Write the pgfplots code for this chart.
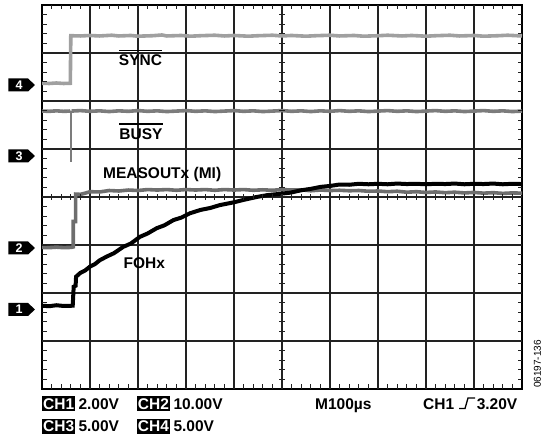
\documentclass[border=0pt]{standalone}
\usepackage{fontspec}
\setmainfont{Liberation Sans}
\usepackage{pgfplots}
\pgfplotsset{compat=1.18}
\definecolor{synccol}{HTML}{A0A0A0}
\definecolor{busycol}{HTML}{7C7C7C}
\definecolor{meascol}{HTML}{6E6E6E}
\definecolor{gridcol}{HTML}{222222}
\newcommand{\chmark}[2]{%
  \fill (-33.5bp,#1-6.5bp) -- (-14bp,#1-6.5bp) -- (-7bp,#1) -- (-14bp,#1+6.5bp) -- (-33.5bp,#1+6.5bp) -- cycle;
  \node[text=white, font=\fontsize{12.5bp}{13bp}\selectfont\bfseries, inner sep=0pt] at (-23bp,#1) {#2};}
\begin{document}
\begin{tikzpicture}[
  lbl/.style={font=\fontsize{15.5bp}{16bp}\selectfont\bfseries, text height=11bp, text depth=0bp, inner xsep=0bp, inner ysep=2bp},
  chbox/.style={lbl, fill=black, text=white, inner xsep=1bp}]
\useasboundingbox (-42bp,-52bp) rectangle (500bp,389bp);
\begin{axis}[at={(0,0)}, anchor=south west, scale only axis, width=480bp, height=384bp,
  xmin=0, xmax=10, ymin=0, ymax=8,
  xtick={0,...,10}, ytick={0,...,8}, xticklabels={}, yticklabels={},
  major tick length=0pt, grid=major,
  major grid style={gridcol, line width=1.6bp},
  axis line style={black, line width=2bp}]
% SYNC (CH4)
\addplot[synccol, line width=3.6bp] coordinates {
 (0,6.37) (0.15,6.365) (0.3,6.375) (0.45,6.365) (0.59,6.37) (0.60,7.36)
 (0.8,7.355) (1.0,7.365) (1.2,7.355) (1.45,7.37) (1.6,7.355) (1.85,7.365) (2.0,7.35)
 (2.3,7.36) (2.5,7.375) (2.6,7.355) (2.9,7.365) (3.1,7.35) (3.3,7.36) (3.6,7.37)
 (3.8,7.355) (4.0,7.365) (4.3,7.35) (4.5,7.36) (4.8,7.37) (5.0,7.355) (5.2,7.365)
 (5.5,7.35) (5.7,7.36) (6.0,7.37) (6.2,7.355) (6.5,7.365) (6.7,7.35) (7.0,7.36)
 (7.2,7.37) (7.5,7.355) (7.7,7.365) (8.0,7.35) (8.2,7.36) (8.5,7.37) (8.7,7.355)
 (9.0,7.365) (9.2,7.35) (9.5,7.36) (9.7,7.37) (10,7.355)};
% BUSY (CH3)
\addplot[busycol, line width=3.6bp] coordinates {
 (0,5.79) (0.15,5.785) (0.3,5.795) (0.45,5.785) (0.585,5.79) (0.595,5.795)};
\addplot[busycol, line width=1.4bp] coordinates {
 (0.60,5.79) (0.60,4.74) (0.61,4.74) (0.61,5.79)};
\addplot[busycol, line width=3.6bp] coordinates {
 (0.615,5.79) (0.8,5.80) (1.0,5.785) (1.2,5.795) (1.4,5.78) (1.6,5.795) (1.8,5.785)
 (2.0,5.80) (2.2,5.785) (2.4,5.795) (2.6,5.78) (2.8,5.79) (3.0,5.80) (3.2,5.785)
 (3.4,5.795) (3.6,5.78) (3.8,5.79) (4.0,5.80) (4.2,5.785) (4.4,5.795) (4.6,5.78)
 (4.8,5.79) (5.0,5.80) (5.2,5.785) (5.4,5.795) (5.6,5.78) (5.8,5.795) (6.0,5.785)
 (6.2,5.80) (6.4,5.785) (6.6,5.795) (6.8,5.78) (7.0,5.79) (7.2,5.80) (7.4,5.785)
 (7.6,5.795) (7.8,5.78) (8.0,5.79) (8.2,5.80) (8.4,5.785) (8.6,5.795) (8.8,5.78)
 (9.0,5.79) (9.2,5.80) (9.4,5.785) (9.6,5.795) (9.8,5.78) (10,5.79)};
% MEASOUTx (CH2)
\addplot[meascol, line width=3.6bp] coordinates {
 (0,2.95) (0.15,2.945) (0.3,2.955) (0.45,2.945) (0.61,2.95) (0.65,2.96) (0.65,3.49)
 (0.70,3.49) (0.70,4.06) (0.8,4.055) (0.9,4.08) (1.0,4.11) (1.2,4.105) (1.4,4.135)
 (1.6,4.125) (1.8,4.145) (2.0,4.135) (2.2,4.155) (2.4,4.145) (2.6,4.155) (2.8,4.14)
 (3.0,4.155) (3.2,4.145) (3.4,4.155) (3.6,4.14) (3.8,4.155) (4.0,4.145) (4.2,4.155)
 (4.4,4.14) (4.6,4.15) (4.8,4.14) (5.0,4.155) (5.2,4.145) (5.4,4.15) (5.6,4.13)
 (5.8,4.145) (6.0,4.135) (6.2,4.14) (6.4,4.13) (6.6,4.135) (6.8,4.12) (7.0,4.125)
 (7.2,4.11) (7.4,4.12) (7.6,4.10) (7.8,4.11) (8.0,4.095) (8.2,4.105) (8.4,4.09)
 (8.6,4.10) (8.8,4.085) (9.0,4.095) (9.2,4.08) (9.4,4.09) (9.6,4.075) (9.8,4.085) (10,4.08)};
% FOHx (CH1)
\addplot[black, line width=4bp] coordinates {
 (0,1.735) (0.15,1.725) (0.3,1.745) (0.45,1.73) (0.64,1.735) (0.66,2.13) (0.70,2.15)
 (0.71,2.34) (0.8,2.42) (0.9,2.47) (1.0,2.55) (1.1,2.60) (1.2,2.68) (1.35,2.76)
 (1.5,2.83) (1.69,2.96) (1.85,3.03) (2.04,3.17) (2.2,3.24) (2.39,3.35) (2.55,3.41)
 (2.74,3.52) (2.9,3.57) (3.08,3.66) (3.3,3.73) (3.5,3.77) (3.7,3.83) (4.0,3.89)
 (4.2,3.94) (4.47,4.00) (4.7,4.04) (4.9,4.06) (5.17,4.09) (5.4,4.14) (5.6,4.17)
 (5.8,4.21) (6.0,4.23) (6.2,4.26) (6.4,4.255) (6.6,4.275) (6.8,4.265) (7.0,4.275)
 (7.2,4.265) (7.4,4.28) (7.6,4.27) (7.8,4.275) (8.0,4.265) (8.2,4.275) (8.4,4.27)
 (8.6,4.28) (8.8,4.265) (9.0,4.275) (9.2,4.27) (9.4,4.28) (9.6,4.265) (9.8,4.275) (10,4.27)};
\end{axis}
% minor ticks on border and center lines (each set as one path)
\draw[line width=1.3bp, gridcol] foreach \i in {1,...,49} {(\i*9.6bp,0) -- ++(0,4.5bp)};
\draw[line width=1.3bp, gridcol] foreach \i in {1,...,49} {(\i*9.6bp,384bp) -- ++(0,-4.5bp)};
\draw[line width=1.3bp, gridcol] foreach \i in {1,...,49} {(\i*9.6bp,189bp) -- ++(0,6bp)};
\draw[line width=1.3bp, gridcol] foreach \j in {1,...,39} {(0,\j*9.6bp) -- ++(4.5bp,0)};
\draw[line width=1.3bp, gridcol] foreach \j in {1,...,39} {(480bp,\j*9.6bp) -- ++(-4.5bp,0)};
\draw[line width=1.3bp, gridcol] foreach \j in {1,...,39} {(237bp,\j*9.6bp) -- ++(6bp,0)};
% channel markers
\chmark{304bp}{4}
\chmark{233bp}{3}
\chmark{141bp}{2}
\chmark{79.5bp}{1}
% trace labels
\node[lbl] (sync) at (98.5bp,328.5bp) {SYNC};
\draw[line width=1.4bp] ([yshift=2.3bp]sync.north west) -- ([yshift=2.3bp]sync.north east);
\node[lbl] (busy) at (99bp,255bp) {BUSY};
\draw[line width=1.4bp] ([yshift=2.3bp]busy.north west) -- ([yshift=2.3bp]busy.north east);
\node[lbl] at (120.2bp,215.7bp) {MEASOUTx (MI)};
\node[lbl] at (102.2bp,125.5bp) {FOHx};
% bottom readout
\node[chbox, anchor=west] at (0bp,-14.5bp) {CH1};
\node[lbl, anchor=west] at (36.3bp,-14.5bp) {2.00V};
\node[chbox, anchor=west] at (94.7bp,-14.5bp) {CH2};
\node[lbl, anchor=west] at (131.3bp,-14.5bp) {10.00V};
\node[lbl, anchor=west] at (273bp,-14.5bp) {M100µs};
\node[lbl, anchor=west] at (381bp,-14.5bp) {CH1};
\draw[line width=1.3bp] (417bp,-19.5bp) -- (423bp,-19.5bp) -- (426bp,-9bp) -- (433bp,-9bp);
\node[lbl, anchor=east] at (475.5bp,-14.5bp) {3.20V};
\node[chbox, anchor=west] at (0bp,-37bp) {CH3};
\node[lbl, anchor=west] at (36.3bp,-37bp) {5.00V};
\node[chbox, anchor=west] at (94.7bp,-37bp) {CH4};
\node[lbl, anchor=west] at (131.3bp,-37bp) {5.00V};
\node[rotate=90, font=\fontsize{10bp}{12bp}\selectfont, inner sep=0pt] at (495.5bp,25bp) {06197-136};
\end{tikzpicture}
\end{document}
